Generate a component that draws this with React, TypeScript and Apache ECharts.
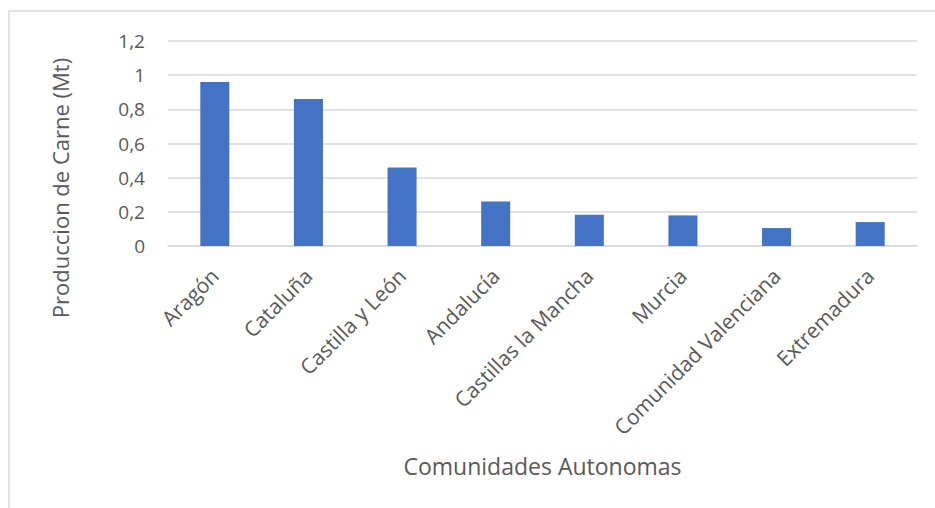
import React, { useEffect, useRef } from "react";
import * as echarts from "echarts";

// Meat production by autonomous community (million tonnes)
const comunidades = [
  "Aragón",
  "Cataluña",
  "Castilla y León",
  "Andalucía",
  "Castillas la Mancha",
  "Murcia",
  "Comunidad Valenciana",
  "Extremadura",
];
const produccion = [0.96, 0.86, 0.46, 0.26, 0.183, 0.179, 0.105, 0.14];

const yMin = 0;
const yMax = 1.2;
const yStep = 0.2;

const yTitle = "Produccion de Carne (Mt)";
const xTitle = "Comunidades Autonomas";

const FONT = "Open Sans";
const TEXT = "#595959";
const GRID = "#d9d9d9";
const BAR = "#4472c4";

export default function App() {
  const ref = useRef<HTMLDivElement>(null);

  useEffect(() => {
    if (!ref.current) return;
    const chart = echarts.init(ref.current, undefined, { renderer: "svg" });
    chart.setOption({
      animation: false,
      backgroundColor: "#ffffff",
      textStyle: { fontFamily: FONT },
      graphic: [
        {
          type: "rect",
          shape: { x: 9, y: 11, width: 1000, height: 600 },
          style: { fill: "none", stroke: GRID, lineWidth: 1.5 },
          silent: true,
          z: -1,
        },
        {
          type: "text",
          x: 60,
          y: 188,
          rotation: Math.PI / 2,
          style: {
            text: yTitle,
            fill: TEXT,
            fontSize: 22,
            fontFamily: FONT,
            align: "center",
            verticalAlign: "middle",
          },
        },
      ],
      grid: { left: 168, right: 18, top: 41, height: 205 },
      xAxis: {
        type: "category",
        data: comunidades,
        name: xTitle,
        nameLocation: "middle",
        nameGap: 208,
        nameTextStyle: { color: TEXT, fontSize: 23, fontFamily: FONT },
        axisLine: { show: true, lineStyle: { color: GRID, width: 1.5 } },
        axisTick: { show: false },
        axisLabel: {
          rotate: 45,
          interval: 0,
          margin: 26,
          color: TEXT,
          fontSize: 21,
          fontFamily: FONT,
        },
      },
      yAxis: {
        type: "value",
        min: yMin,
        max: yMax,
        interval: yStep,
        axisLine: { show: false },
        axisTick: { show: false },
        axisLabel: {
          margin: 23,
          color: TEXT,
          fontSize: 19,
          fontFamily: FONT,
          formatter: (v: number) => String(Math.round(v * 10) / 10).replace(".", ","),
        },
        splitLine: { lineStyle: { color: GRID, width: 1.5 } },
      },
      series: [
        {
          type: "bar",
          data: produccion,
          barWidth: "31%",
          itemStyle: { color: BAR },
        },
      ],
    });
    return () => chart.dispose();
  }, []);

  return (
    <div
      ref={ref}
      style={{ position: "absolute", left: 0, top: 0, width: 935, height: 508 }}
    />
  );
}
